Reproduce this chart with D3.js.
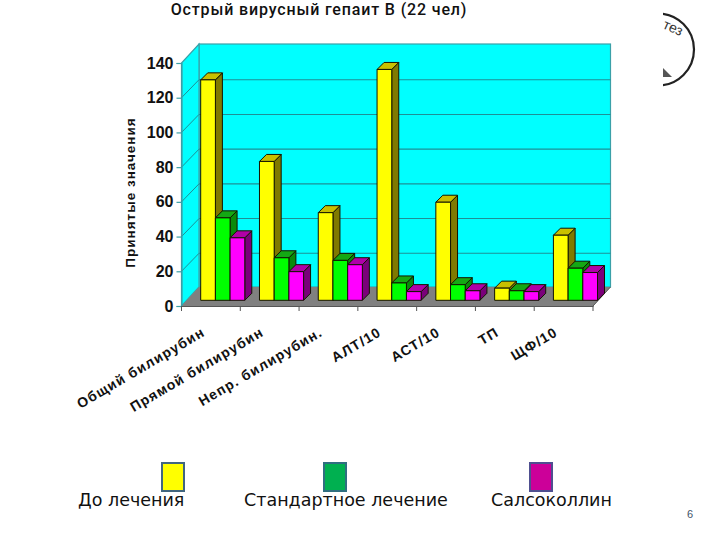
<!DOCTYPE html>
<html><head><meta charset="utf-8">
<script src="https://cdn.jsdelivr.net/npm/d3@7"></script>
<style>html,body{margin:0;padding:0;background:#fff}svg{display:block}</style></head>
<body><svg id="c" width="720" height="540"></svg>
<script>
const categories = ["Общий билирубин","Прямой билирубин","Непр. билирубин.","АЛТ/10","АСТ/10","ТП","ЩФ/10"];
const seriesNames = ["До лечения","Стандартное лечение","Салсоколлин"];
const before = [127,80,50.5,133,56.5,7,37.5];
const standard = [47.5,24.5,23,10,9,5.5,18.5];
const salsocollin = [36,16.5,20.5,5,5.5,5,16];
const yTicks = [0,20,40,60,80,100,120,140];
const faceColors = ["#ffff00","#00ff00","#ff00ff"];
const sideColors = ["#807a00","#0a8a0a","#7a007a"];
const topColors = ["#c8c000","#14a814","#b000a8"];
const legendColors = ["#ffff00","#00b050","#cc0099"];
const legendStroke = ["#41667f","#2f6f80","#4f4f90"];
const values = [before,standard,salsocollin];

const svg = d3.select("#c");
const y = d3.scaleLinear().domain([0,140]).range([306,63]);
const x = d3.scaleBand().domain(categories).range([181.5,593]).paddingInner(0.25).paddingOuter(0.125);
const inner = d3.scaleBand().domain(d3.range(3)).range([0,x.bandwidth()]);
const wallDx = 17.5, wallDy = -19, barDx = 11.85, barDy = -5.7, barDepth = 7;
const wallC = "#3aa0a8", gridC = "#1f8f96";
const [x0,x1] = x.range();

// walls + floor
svg.append("rect").attr("x",x0+wallDx).attr("y",y(140)+wallDy).attr("width",x1-x0).attr("height",y(0)-y(140))
  .attr("fill","#00ffff").attr("stroke",wallC).attr("stroke-width",1.2);
svg.append("polygon").attr("points",[[x0,y(0)],[x0,y(140)],[x0+wallDx,y(140)+wallDy],[x0+wallDx,y(0)+wallDy]].join(" "))
  .attr("fill","#00ffff").attr("stroke",wallC).attr("stroke-width",1.2);
svg.append("polygon").attr("points",[[x0,y(0)],[x1,y(0)],[x1+wallDx,y(0)+wallDy],[x0+wallDx,y(0)+wallDy]].join(" "))
  .attr("fill","#808080");
svg.append("line").attr("x1",x1).attr("y1",y(0)).attr("x2",x1+wallDx).attr("y2",y(0)+wallDy).attr("stroke","#555");

// gridlines
const gt = yTicks.filter(t=>t>0&&t<140);
svg.append("g").selectAll("line").data(gt).join("line")
  .attr("x1",x0+wallDx).attr("x2",x1+wallDx).attr("y1",d=>y(d)+wallDy+1).attr("y2",d=>y(d)+wallDy+1)
  .attr("stroke",gridC).attr("stroke-width",1.1);
svg.append("g").selectAll("line").data(gt).join("line")
  .attr("x1",x0).attr("x2",x0+wallDx).attr("y1",d=>y(d)).attr("y2",d=>y(d)+wallDy+1)
  .attr("stroke",gridC).attr("stroke-width",1);

// bars
const bars = svg.append("g").attr("stroke","#141400").attr("stroke-width",1).attr("stroke-linejoin","round");
categories.forEach((c,i)=>{
  values.forEach((vals,s)=>{
    const l = x(c)+inner(s)+barDx, w = inner.bandwidth(), b = y(0)+barDy, t = y(vals[i])+barDy;
    const g = bars.append("g");
    g.append("polygon").attr("points",[[l+w,b],[l+w,t],[l+w+barDepth,t-barDepth],[l+w+barDepth,b-barDepth]].join(" ")).attr("fill",sideColors[s]);
    g.append("polygon").attr("points",[[l,t],[l+w,t],[l+w+barDepth,t-barDepth],[l+barDepth,t-barDepth]].join(" ")).attr("fill",topColors[s]);
    g.append("rect").attr("x",l).attr("y",t).attr("width",w).attr("height",b-t).attr("fill",faceColors[s]);
  });
});

// y axis
const ya = svg.append("g").attr("transform",`translate(${x0},0)`).call(d3.axisLeft(y).tickValues(yTicks).tickSize(5).tickPadding(3));
ya.selectAll("path,line").attr("stroke",wallC).attr("stroke-width",1.2);
ya.selectAll("text").attr("font-family","Liberation Sans").attr("font-weight","bold").attr("font-size",16).attr("fill","#111");

// x axis
const xa = svg.append("g").attr("transform",`translate(0,${y(0)})`).call(d3.axisBottom(x).tickSize(0).tickPadding(0));
xa.select("path").attr("stroke","#555");
xa.selectAll("text")
  .attr("font-family","Liberation Sans").attr("font-weight","bold").attr("font-size",14).attr("letter-spacing","1.1px").attr("fill","#111")
  .attr("text-anchor","end").attr("dy",0).attr("y",0)
  .attr("transform","translate(-5,29) rotate(-30.5)");
svg.append("g").selectAll("line").data(d3.range(categories.length+1)).join("line")
  .attr("x1",d=>x0+d*x.step()).attr("x2",d=>x0+d*x.step()).attr("y1",y(0)).attr("y2",y(0)+5).attr("stroke","#555");

// text
svg.append("text").attr("x",319).attr("y",14.5).attr("text-anchor","middle")
  .attr("font-family","Roboto").attr("font-weight",500).attr("font-size",16).attr("letter-spacing","0.85px").attr("fill","#111")
  .text("Острый вирусный гепаит В (22 чел)");
svg.append("text").attr("transform","translate(134.5,192.5) rotate(-90)").attr("text-anchor","middle")
  .attr("font-family","Liberation Sans").attr("font-weight","bold").attr("font-size",13.5).attr("letter-spacing","1px").attr("fill","#111")
  .text("Принятые значения");

// legend
const legendSwatchX = [161,323,529], legendTextX = [78,244,491];
seriesNames.forEach((n,i)=>{
  svg.append("rect").attr("x",legendSwatchX[i]+1).attr("y",463).attr("width",22).attr("height",28)
    .attr("fill",legendColors[i]).attr("stroke",legendStroke[i]).attr("stroke-width",2);
  svg.append("text").attr("x",legendTextX[i]).attr("y",506).attr("font-family","DejaVu Sans").attr("font-size",17.5).attr("fill","#111").text(n);
});
svg.append("text").attr("x",690).attr("y",518).attr("text-anchor","middle").attr("font-family","Liberation Sans").attr("font-size",11).attr("fill","#44546a").text("6");

// decorative fragment top right
svg.append("clipPath").attr("id","cl").append("rect").attr("x",663).attr("y",0).attr("width",57).attr("height",100);
svg.append("circle").attr("cx",658).attr("cy",49.5).attr("r",36).attr("fill","none").attr("stroke","#222").attr("stroke-width",2.2).attr("clip-path","url(#cl)");
svg.append("text").attr("transform","translate(662,28) rotate(24)").attr("font-family","Liberation Sans").attr("font-size",14).attr("fill","#333").text("тез");
svg.append("polygon").attr("points","663,68 672,77 663,77").attr("fill","#555");
</script></body></html>
